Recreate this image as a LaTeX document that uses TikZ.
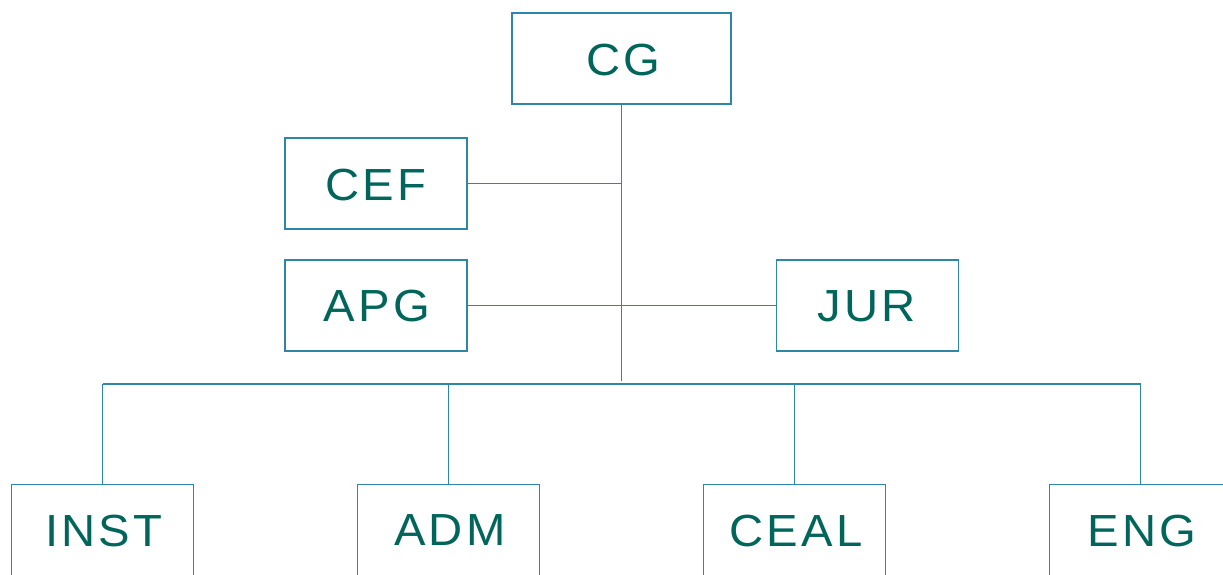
\documentclass[tikz,border=0pt]{standalone}
\usepackage{fontspec}
\setmainfont{Liberation Sans}[FakeStretch=1.05,LetterSpace=7]
\definecolor{txt}{HTML}{00665C}
\definecolor{ln}{HTML}{2F86A6}
\begin{document}
\begin{tikzpicture}[x=1pt,y=-1pt,
  orgbox/.style={draw=ln,line width=1.2pt,fill=white,minimum width=182pt,minimum height=91pt,inner sep=0pt},
  lbl/.style={text=txt,inner sep=0pt,font=\fontsize{45}{45}\selectfont},
  link/.style={draw=ln,line width=1.3pt}]
\useasboundingbox (0,0) rectangle (1223,574);
\clip (0,0) rectangle (1223,574);
\node[orgbox,minimum width=219pt] (cg) at (621.5,58.5) {};
\node[orgbox] (cef) at (376,183.5) {};
\node[orgbox] (apg) at (376,305.5) {};
\node[orgbox] (jur) at (867.5,305.5) {};
\node[orgbox,anchor=north] (inst) at (102.5,483.5) {};
\node[orgbox,anchor=north] (adm) at (448.5,483.5) {};
\node[orgbox,anchor=north] (ceal) at (794.5,483.5) {};
\node[orgbox,anchor=north] (eng) at (1140.5,483.5) {};
\node[lbl] (tcg) at (623.5,60) {CG};
\node[lbl] (tcef) at (376,185) {CEF};
\node[lbl] (tapg) at (377,306.5) {APG};
\node[lbl] (tjur) at (867,306.5) {JUR};
\node[lbl] (tinst) at (104,530.5) {INST};
\node[lbl] (tadm) at (450,530.5) {ADM};
\node[lbl] (tceal) at (796,530.5) {CEAL};
\node[lbl] (teng) at (1142,530.5) {ENG};
\coordinate (trunk) at (cg.south |- 0,381);
\coordinate (busl) at (inst.north |- 0,384);
\coordinate (busr) at (eng.north |- 0,384);
\draw[link] (cg.south) -- (trunk);
\draw[link] (cef.east) -- (cef.east -| cg.south);
\draw[link] (apg.east) -- (jur.west);
\draw[link] (busl) -- (busr);
\draw[link] (busl) -- (inst.north);
\draw[link] (adm.north |- busl) -- (adm.north);
\draw[link] (ceal.north |- busl) -- (ceal.north);
\draw[link] (busr) -- (eng.north);
\end{tikzpicture}
\end{document}
